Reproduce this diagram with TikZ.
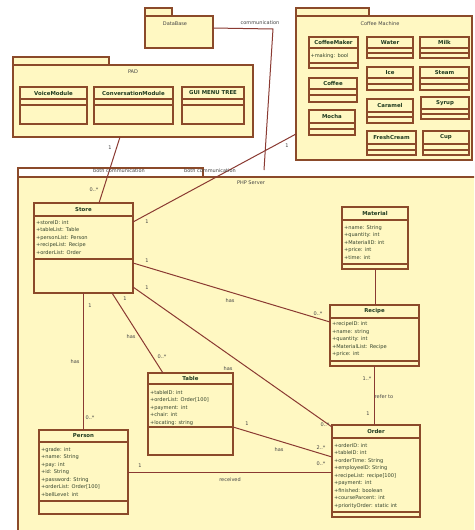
\documentclass[tikz,border=0pt]{standalone}
\usepackage{fontspec}
\setmainfont{DejaVu Sans}

\definecolor{pkgfill}{HTML}{FFF8C2}
\definecolor{edge}{HTML}{8B4A2A}
\definecolor{link}{HTML}{8A3A32}
\definecolor{nametext}{HTML}{1F3A1F}
\definecolor{attrtext}{HTML}{34432C}
\definecolor{labeltext}{HTML}{444444}

\tikzset{
  every node/.style={inner sep=0pt, outer sep=0pt},
  pkgbody/.style={draw=edge, fill=pkgfill, line width=1.1pt, anchor=north west},
  tabbox/.style={draw=edge, fill=pkgfill, line width=1.1pt},
  classbox/.style={draw=edge, fill=pkgfill, line width=1.1pt},
  classrule/.style={draw=edge, line width=1.1pt},
  classname/.style={font=\fontsize{5.4}{6}\bfseries\selectfont, text=nametext},
  attr/.style={font=\fontsize{5.1}{6}\selectfont, text=attrtext},
  lbl/.style={font=\fontsize{5}{6}\selectfont, text=labeltext},
  assoc/.style={draw=link, line width=1pt},
}

% class box: name, x1, y1, x2, y2, header rule y, second rule y, title
\newcommand\umlclass[8]{%
  \pgfmathsetmacro\cwd{#4-#2}%
  \pgfmathsetmacro\cht{#5-#3}%
  \pgfmathsetmacro\cmx{(#2+#4)/2}%
  \pgfmathsetmacro\cty{(#3+#6)/2}%
  \node[classbox, anchor=north west, minimum width=\cwd pt, minimum height=\cht pt] (#1) at (#2,#3) {};
  \draw[classrule] (#2,#6) -- (#4,#6) (#2,#7) -- (#4,#7);
  \node[classname] (#1-name) at (\cmx,\cty) {#8};
}

% attribute lines: class name, x, baseline of first line, list
\newcommand\umlattrs[4]{%
  \foreach \atxt [count=\ai] in {#4} {
    \node[attr, anchor=base west] (#1-attr\ai) at (#2, {#3+(\ai-1)*7.5}) {\atxt};
  }
}

\begin{document}
\begin{tikzpicture}[x=1pt, y=-1pt]
\clip (0,0) rectangle (474,530);
\fill[white] (0,0) rectangle (474,530);

% ---------------- packages ----------------
% PHP Server
\draw[classrule, fill=white] (18,168) rectangle (203,177);
\node[pkgbody, minimum width=470pt, minimum height=370pt] (php) at (18,177) {};
\node[lbl] (php-label) at (251,183) {PHP Server};

% DataBase
\draw[tabbox] (145,8) rectangle (172,16);
\node[pkgbody, minimum width=68pt, minimum height=32pt] (db) at (145,16) {};
\node[lbl] (db-label) at (175,24) {DataBase};

% PAD
\draw[tabbox] (13,57) rectangle (109,65);
\node[pkgbody, minimum width=240pt, minimum height=72pt] (pad) at (13,65) {};
\node[lbl] (pad-label) at (133,72) {PAD};

% Coffee Machine
\draw[tabbox] (296,8) rectangle (369,16);
\node[pkgbody, minimum width=176pt, minimum height=144pt] (coffee) at (296,16) {};
\node[lbl] (coffee-label) at (380,24) {Coffee Machine};

% ---------------- PAD classes ----------------
\umlclass{voice}{20}{87}{87}{124}{99}{105}{VoiceModule}
\umlclass{conv}{94}{87}{173}{124}{99}{105}{ConversationModule}
\umlclass{gui}{182}{87}{244}{124}{99}{105}{GUI MENU TREE}

% ---------------- Coffee Machine classes ----------------
\umlclass{maker}{309}{37}{358}{68}{48}{63}{CoffeeMaker}
\umlattrs{maker}{310.5}{57}{{+making: bool}}
\umlclass{water}{367}{37}{413}{58}{48}{53}{Water}
\umlclass{milk}{420}{37}{469}{58}{48}{53}{Milk}
\umlclass{ice}{367}{67}{413}{90}{78}{84}{Ice}
\umlclass{steam}{420}{67}{469}{90}{78}{84}{Steam}
\umlclass{coffeecls}{309}{78}{357}{102}{89}{95}{Coffee}
\umlclass{caramel}{367}{99}{413}{123}{112}{117}{Caramel}
\umlclass{syrup}{421}{97}{469}{119}{109}{114}{Syrup}
\umlclass{mocha}{309}{110}{355}{135}{123}{129}{Mocha}
\umlclass{cream}{367}{131}{416}{155}{144}{150}{FreshCream}
\umlclass{cup}{423}{131}{469}{155}{144}{150}{Cup}

% ---------------- PHP Server classes ----------------
\umlclass{store}{34}{203}{133}{293}{216}{259}{Store}
\umlattrs{store}{36}{224}{{+storeID: int},{+tableList: Table},{+personList: Person},{+recipeList: Recipe},{+orderList: Order}}

\umlclass{material}{342}{207}{408}{269}{220}{264}{Material}
\umlattrs{material}{344}{229}{{+name: String},{+quantity: int},{+MaterialID: int},{+price: int},{+time: int}}

\umlclass{recipe}{330}{305}{419}{366}{318}{361}{Recipe}
\umlattrs{recipe}{332}{325.5}{{+recipeID: int},{+name: string},{+quantity: int},{+MaterialList: Recipe},{+price: int}}

\umlclass{table}{148}{373}{233}{455}{384}{427}{Table}
\umlattrs{table}{150}{394}{{+tableID: int},{+orderList: Order[100]},{+payment: int},{+chair: int},{+locating: string}}

\umlclass{person}{39}{430}{128}{514}{442}{501}{Person}
\umlattrs{person}{41}{451}{{+grade: int},{+name: String},{+pay: int},{+id: String},{+password: String},{+orderList: Order[100]},{+bellLevel: int}}

\umlclass{order}{332}{425}{420}{517}{438}{512}{Order}
\umlattrs{order}{334}{447}{{+orderID: int},{+tableID: int},{+orderTime: String},{+employeeID: String},{+recipeList: recipe[100]},{+payment: int},{+finished: boolean},{+courseParcent: int},{+priorityOrder: static int}}

% ---------------- connectors ----------------
% DataBase -- PHP Server
\coordinate (commbend) at (273,29);
\coordinate (commend) at (264,170);
\draw[assoc] ([yshift=-12pt]db.north east) -- (commbend) -- (commend);
\node[lbl] (comm-label) at (260,23) {communication};

% PAD -- Store
\draw[assoc] ([xshift=107pt]pad.south west) -- ([xshift=65pt]store.north west);
\node[lbl] (padstore-1) at (110,148) {1};
\node[lbl] (padstore-lbl) at (119,171) {both communication};
\node[lbl] (padstore-m) at (94,190) {0..*};

% Coffee Machine -- Store
\draw[assoc] ([yshift=26pt]coffee.south west) -- ([yshift=-19pt]store.north east);
\node[lbl] (cofstore-1) at (287,146) {1};
\node[lbl] (cofstore-lbl) at (210,171) {both communication};
\node[lbl] (cofstore-2) at (147,222) {1};

% Store -- Person
\draw[assoc] ([xshift=49pt]store.south west) -- ([xshift=44pt]person.north west);
\node[lbl] (sp-1) at (90,306) {1};
\node[lbl] (sp-has) at (75,362) {has};
\node[lbl] (sp-m) at (90,418) {0..*};

% Store -- Table
\draw[assoc] ([xshift=78pt]store.south west) -- ([xshift=15pt]table.north west);
\node[lbl] (st-1) at (125,299) {1};
\node[lbl] (st-has) at (131,337) {has};
\node[lbl] (st-m) at (162,357) {0..*};

% Store -- Recipe
\draw[assoc] ([yshift=30pt]store.south east) -- ([yshift=-17pt]recipe.north west);
\node[lbl] (sr-1) at (147,261) {1};
\node[lbl] (sr-has) at (230,301) {has};
\node[lbl] (sr-m) at (318,314) {0..*};

% Store -- Order
\draw[assoc] ([yshift=6pt]store.south east) -- ([yshift=-2pt]order.north west);
\node[lbl] (so-1) at (147,288) {1};
\node[lbl] (so-has) at (228,369) {has};
\node[lbl] (so-m) at (325,425) {0..*};

% Material -- Recipe
\draw[assoc] (material.south) -- (material.south |- recipe.north);

% Recipe -- Order
\draw[assoc] (recipe.south) -- (recipe.south |- order.north);
\node[lbl] (ro-m) at (367,379) {1..*};
\node[lbl] (ro-lbl) at (384,397) {refer to};
\node[lbl] (ro-1) at (368,414) {1};

% Table -- Order
\draw[assoc] ([yshift=28pt]table.south east) -- ([yshift=-32pt]order.north west);
\node[lbl] (to-1) at (247,424) {1};
\node[lbl] (to-has) at (279,450) {has};
\node[lbl] (to-m) at (321,448) {2..*};

% Person -- Order
\draw[assoc] ([yshift=42pt]person.south east) -- ([yshift=-47pt]order.north west);
\node[lbl] (po-1) at (140,466) {1};
\node[lbl] (po-lbl) at (230,480) {received};
\node[lbl] (po-m) at (321,464) {0..*};
\end{tikzpicture}
\end{document}
